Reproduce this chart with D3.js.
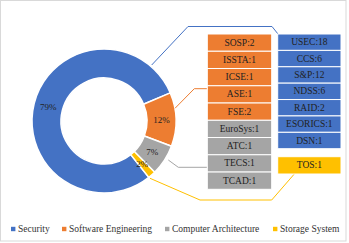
<!DOCTYPE html>
<html>
<head>
<meta charset="utf-8">
<script src="https://cdn.jsdelivr.net/npm/d3@7"></script>
<style>
  body { margin: 0; background: #fff; }
</style>
</head>
<body>
<script>
/* ---------------- data ---------------- */
const categories = ["Security", "Software Engineering", "Computer Architecture", "Storage System"];
const categoryCounts = [46, 7, 4, 1];
const colors = ["#4472c4", "#ed7d31", "#a5a5a5", "#ffc000"];

const securityVenues = ["USEC", "CCS", "S&P", "NDSS", "RAID", "ESORICS", "DSN"];
const securityCounts = [18, 6, 12, 6, 2, 1, 1];
const seVenues = ["SOSP", "ISSTA", "ICSE", "ASE", "FSE"];
const seCounts = [2, 1, 1, 1, 2];
const archVenues = ["EuroSys", "ATC", "TECS", "TCAD"];
const archCounts = [1, 1, 1, 1];
const storageVenues = ["TOS"];
const storageCounts = [1];

const fontFamily = "Liberation Serif";

/* ---------------- setup ---------------- */
const width = 349;
const height = 243;
const svg = d3.select("body").append("svg")
  .attr("width", width)
  .attr("height", height)
  .style("display", "block");

// chart border
svg.append("rect")
  .attr("x", 0.5).attr("y", 0.5)
  .attr("width", 345.5).attr("height", 240.5)
  .attr("fill", "#fff")
  .attr("stroke", "#d9d9d9");

/* ---------------- donut ---------------- */
const cx = 104, cy = 121;
const total = d3.sum(categoryCounts);
const deg = Math.PI / 180;
const start = 141.5 * deg;

const pie = d3.pie().sort(null).startAngle(start).endAngle(start + 2 * Math.PI);
const arcs = pie(categoryCounts);
const arc = d3.arc().innerRadius(43).outerRadius(72);
const labelArc = d3.arc().innerRadius(57.5).outerRadius(57.5);

const g = svg.append("g").attr("transform", `translate(${cx},${cy})`);
g.selectAll("path.slice")
  .data(arcs)
  .enter()
  .append("path")
  .attr("class", "slice")
  .attr("d", arc)
  .attr("fill", (d, i) => colors[i])
  .attr("stroke", "#fff")
  .attr("stroke-width", 1.5);

g.selectAll("text.pct")
  .data(arcs)
  .enter()
  .append("text")
  .attr("class", "pct")
  .attr("x", (d) => labelArc.centroid(d)[0])
  .attr("y", (d) => labelArc.centroid(d)[1])
  .attr("text-anchor", "middle")
  .attr("dominant-baseline", "central")
  .attr("font-family", fontFamily)
  .style("font-size", "9px")
  .attr("fill", "#222")
  .text((d) => Math.round((d.data / total) * 100) + "%");

/* ---------------- leader lines ---------------- */
const leaders = [
  [[151.7, 65], [188, 26.5], [272, 26.5], [278, 34]],
  [[175, 108.3], [194.3, 88.7], [207, 88.7]],
  [[168.3, 160], [178.3, 167.3], [207, 167.3]],
  [[150, 178.3], [200, 200], [271.7, 200], [294.3, 174]]
];
const line = d3.line();
svg.selectAll("path.leader")
  .data(leaders)
  .enter()
  .append("path")
  .attr("class", "leader")
  .attr("d", line)
  .attr("fill", "none")
  .attr("stroke", (d, i) => colors[i])
  .attr("stroke-width", 1);

/* ---------------- venue boxes ---------------- */
function drawColumn(items, x0, x1, y0, y1) {
  const y = d3.scaleBand().domain(items.map((d, i) => i)).range([y0, y1]);
  const col = svg.append("g");
  col.selectAll("rect")
    .data(items)
    .enter()
    .append("rect")
    .attr("x", x0)
    .attr("y", (d, i) => y(i))
    .attr("width", x1 - x0)
    .attr("height", y.bandwidth())
    .attr("fill", (d) => d.color)
    .attr("stroke", "#fff")
    .attr("stroke-width", 1);
  col.selectAll("text")
    .data(items)
    .enter()
    .append("text")
    .attr("x", (x0 + x1) / 2)
    .attr("y", (d, i) => y(i) + y.bandwidth() / 2)
    .attr("text-anchor", "middle")
    .attr("dominant-baseline", "central")
    .attr("font-family", fontFamily)
    .style("font-size", "9.5px")
    .attr("fill", "#222")
    .text((d) => d.name + ":" + d.count);
}

const toItems = (names, counts, color) =>
  names.map((n, i) => ({ name: n, count: counts[i], color: color }));

const leftItems = toItems(seVenues, seCounts, colors[1])
  .concat(toItems(archVenues, archCounts, colors[2]));
drawColumn(leftItems, 207.3, 271.7, 34, 189.3);
drawColumn(toItems(securityVenues, securityCounts, colors[0]), 277.7, 341, 34, 148.7);
drawColumn(toItems(storageVenues, storageCounts, colors[3]), 277.7, 341, 156.7, 174);

/* ---------------- legend ---------------- */
const legendX = [11, 62, 165, 273];
const legend = svg.selectAll("g.legend")
  .data(categories)
  .enter()
  .append("g")
  .attr("class", "legend")
  .attr("transform", (d, i) => `translate(${legendX[i]},229)`);
legend.append("rect")
  .attr("x", 0).attr("y", -2.2)
  .attr("width", 4.4).attr("height", 4.4)
  .attr("fill", (d, i) => colors[i]);
legend.append("text")
  .attr("x", 7)
  .attr("y", 0)
  .attr("dominant-baseline", "central")
  .attr("font-family", fontFamily)
  .style("font-size", "9.5px")
  .attr("fill", "#333")
  .text((d) => d);
</script>
</body>
</html>
